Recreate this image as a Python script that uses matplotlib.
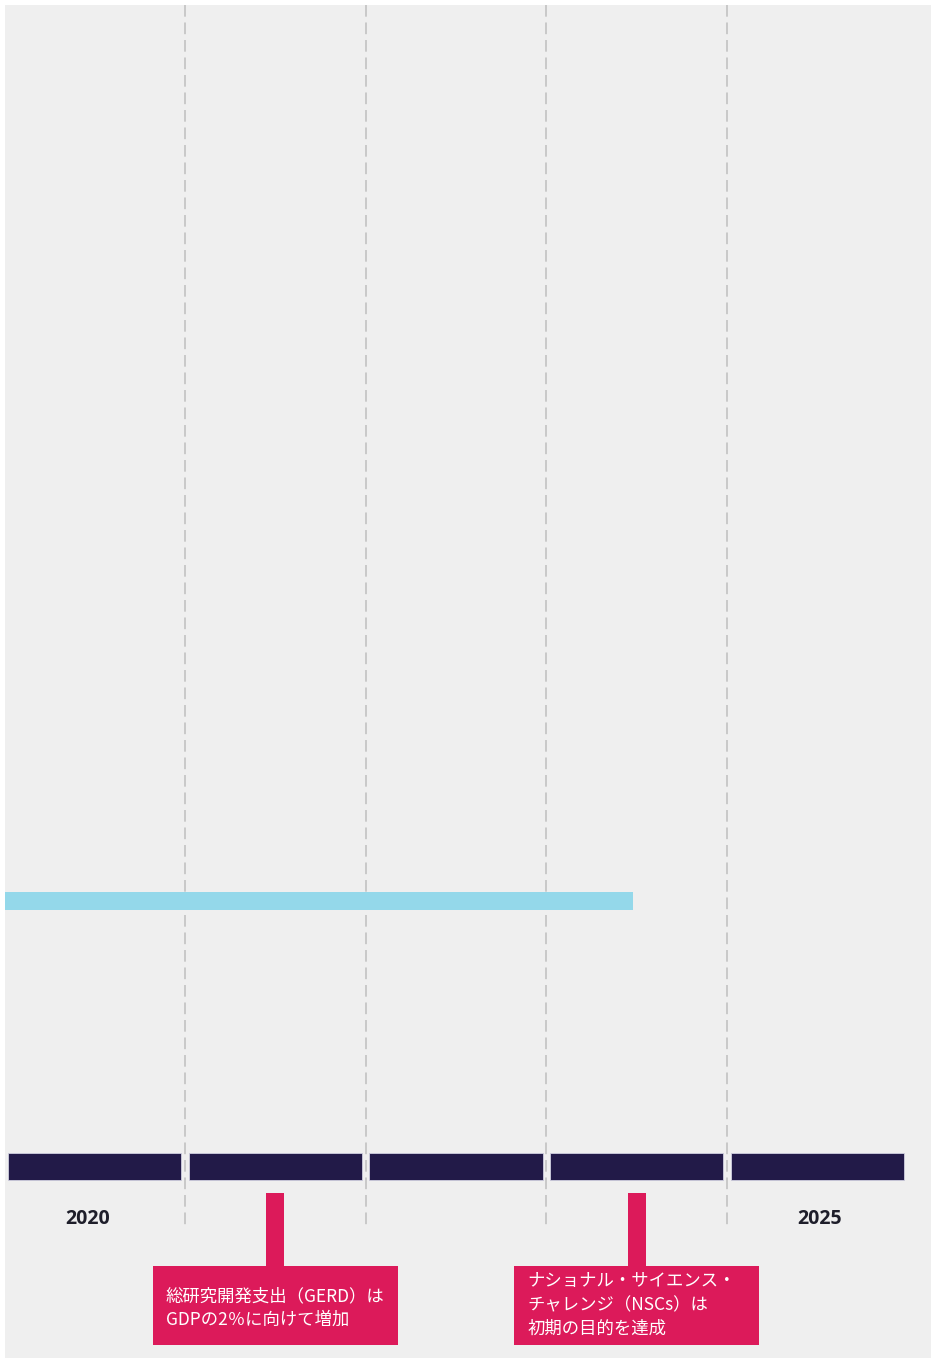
import matplotlib
matplotlib.use("Agg")
import matplotlib.pyplot as plt
from matplotlib.patches import Rectangle

plt.rcParams['font.family'] = ['Noto Sans CJK JP', 'DejaVu Sans']

# timeline: one segment per year, labels only on the ends
segments = [0, 1, 2, 3, 4]
dividers = [1, 2, 3, 4]
year_labels = ["2020", "2025"]
year_label_pos = [0.46, 4.51]

# ongoing programme bar
programme_start = 0.0
programme_end = 3.48

# milestones (position on the timeline, text)
milestone_pos = [1.5, 3.5]
milestone_text = [
    "総研究開発支出（GERD）は\nGDPの2％に向けて増加",
    "ナショナル・サイエンス・\nチャレンジ（NSCs）は\n初期の目的を達成",
]

W, H = 931, 1360
px0, unit = 4.3, 180.7  # pixel offset of x=0, pixels per year


def xd(px):
    return (px - px0) / unit


fig = plt.figure(figsize=(W / 100, H / 100), dpi=100)
fig.patch.set_facecolor("white")
ax = fig.add_axes([0, 0, 1, 1])
ax.set_xlim(xd(0), xd(W))
ax.set_ylim(H, 0)
ax.axis("off")

# grey panel
ax.add_patch(Rectangle((xd(5), 5), xd(W) - xd(5), H - 7,
                       facecolor="#efefef", edgecolor="none", zorder=0))

# dashed year dividers
for d in dividers:
    ax.plot([d, d], [5, 1228], color="#c8c8c8", lw=1.4,
            dashes=(6, 3), zorder=1)

# programme bar
ax.add_patch(Rectangle((xd(5), 892), programme_end - xd(5), 18,
                       facecolor="#94d8ea", edgecolor="none", zorder=2))

# year segments
for s in segments:
    ax.add_patch(Rectangle((s + 0.02, 1153), 0.96, 27,
                           facecolor="#221a48", edgecolor="#cfcfe0",
                           lw=0.6, zorder=3))
for pos, lab in zip(year_label_pos, year_labels):
    ax.text(pos, 1219, lab, ha="center", va="center",
            fontsize=14, fontweight="bold", color="#1e1e2a",
            family=["Open Sans", "DejaVu Sans"], zorder=4)

# milestone callouts
box_w = xd(245) - xd(0)
for pos, txt in zip(milestone_pos, milestone_text):
    ax.add_patch(Rectangle((pos - 0.05, 1193), 0.1, 80,
                           facecolor="#dc1a5a", edgecolor="none", zorder=3))
    ax.add_patch(Rectangle((pos - box_w / 2, 1266), box_w, 79,
                           facecolor="#dc1a5a", edgecolor="none", zorder=3))
    n = txt.count("\n") + 1
    ax.text(pos - box_w / 2 + xd(13) - xd(0), 1305 + (3 if n == 2 else 0), txt,
            ha="left", va="center", fontsize=12.5, color="white",
            linespacing=1.4, zorder=4)

fig.savefig("out.png", dpi=100, facecolor="white")
